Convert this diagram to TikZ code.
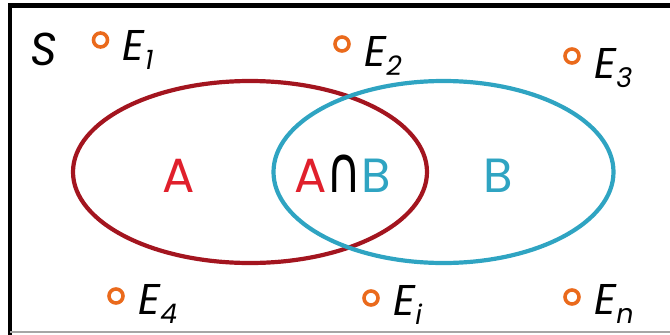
\documentclass[tikz,border=0pt]{standalone}
\usepackage{fontspec}
\setmainfont{Poppins}
\newfontfamily\symfont{DejaVu Sans}
\usetikzlibrary{calc,positioning}
\definecolor{setred}{HTML}{A3151F}
\definecolor{setblue}{HTML}{2FA4C2}
\definecolor{labred}{HTML}{E0202C}
\definecolor{ringorange}{HTML}{EA6A1C}
\tikzstyle{ring} = [circle, draw=ringorange, line width=3.6pt, minimum size=14pt, inner sep=0pt]
\tikzstyle{evlabel} = [anchor=base west, inner sep=0pt, font=\fontsize{43}{43}\selectfont\itshape]
\tikzstyle{setlabel} = [anchor=base, inner sep=0pt, font=\fontsize{48}{48}\selectfont]
\newcommand{\evt}[1]{E\raisebox{-9pt}{\fontsize{27}{27}\selectfont #1}}

\begin{document}
\begin{tikzpicture}[x=1pt,y=-1pt]
    \useasboundingbox (0,0) rectangle (670,335);
    % sample space frame
    \draw[line width=4.5pt] (670,5.5) -- (10,5.5) -- (10,335);
    \draw[black!35, line width=2pt] (10,332) -- (670,332);
    \node (S) [anchor=base, inner sep=0pt, font=\fontsize{46}{46}\selectfont\itshape] at (44,65) {S};

    % the two events
    \draw[setred, line width=4.2pt] (250,172) ellipse [x radius=177, y radius=91];
    \draw[setblue, line width=4.2pt] (443.5,172) ellipse [x radius=170, y radius=91];
    \node (LabelA) [setlabel, text=labred] at (179,192) {A};
    \node (LabelAB) [setlabel] at (342.5,192) {\textcolor{labred}{A}\scalebox{1}[1.35]{\symfont\fontsize{48}{48}\selectfont\char"2229}\textcolor{setblue}{B}};
    \node (LabelB) [setlabel, text=setblue] at (498,192) {B};

    % outcomes
    \node (E1) [ring] at (100.5,40) {};
    \node (E2) [ring] at (342,44) {};
    \node (E3) [ring] at (572,56) {};
    \node (E4) [ring] at (116,296) {};
    \node (Ei) [ring] at (371,298) {};
    \node (En) [ring] at (572,297) {};
    \node (L1) [evlabel] at ($(E1)+(22,20)$) {\evt{1}};
    \node (L2) [evlabel] at ($(E2)+(22,22)$) {\evt{2}};
    \node (L3) [evlabel] at ($(E3)+(22,22)$) {\evt{3}};
    \node (L4) [evlabel] at ($(E4)+(22,18)$) {\evt{4}};
    \node (Li) [evlabel] at ($(Ei)+(22,17)$) {\evt{i}};
    \node (Ln) [evlabel] at ($(En)+(22,17)$) {\evt{n}};
\end{tikzpicture}
\end{document}
